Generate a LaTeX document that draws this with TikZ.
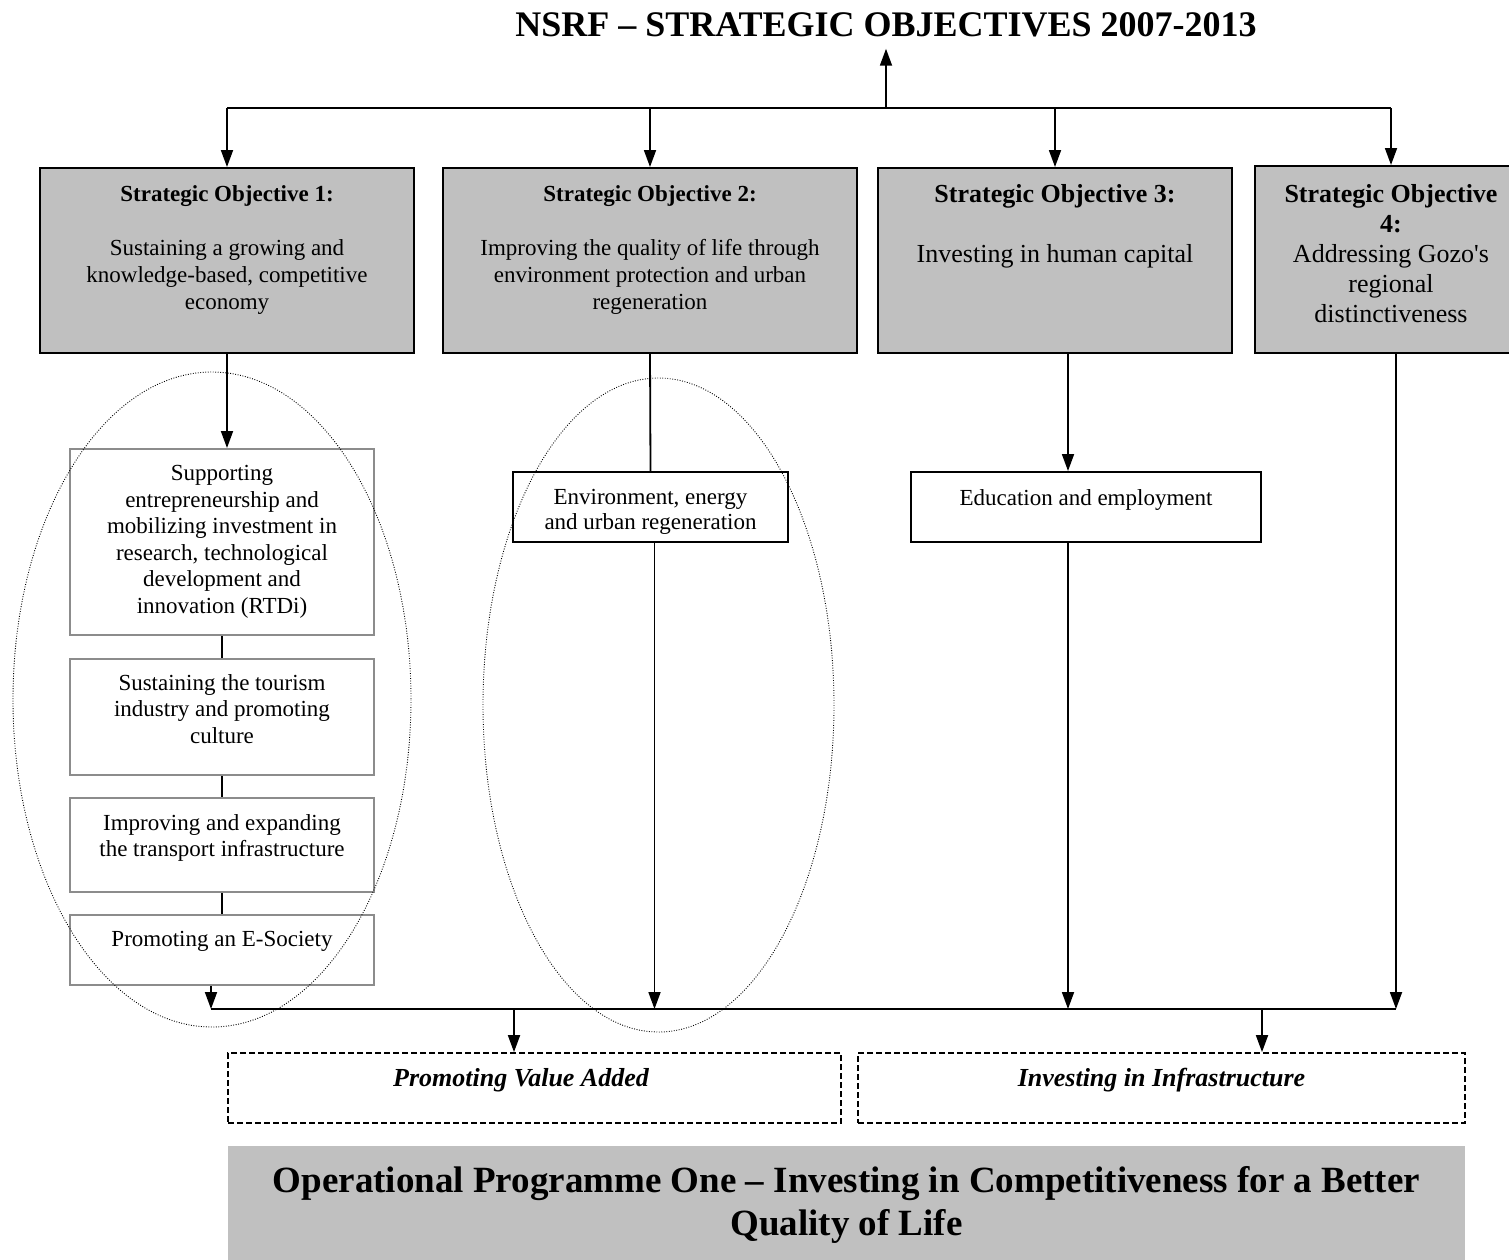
\documentclass[tikz,border=0pt]{standalone}
\usepackage{fontspec}
\setmainfont{Liberation Serif}
\usetikzlibrary{positioning,arrows.meta}
\definecolor{boxgray}{HTML}{C0C0C0}
\definecolor{subgray}{HTML}{8C8C8C}

\tikzset{
  conn/.style={line width=1.8pt},
  arr/.style={conn, -{Triangle[width=12pt,length=17pt]}},
  objbox/.style={draw, line width=2pt, fill=boxgray, minimum height=185, inner sep=0pt},
  subbox/.style={draw=subgray, line width=2pt, fill=white, minimum width=304, inner sep=0pt},
  linkbox/.style={draw, line width=2pt, fill=white, minimum height=70, inner sep=0pt},
  prgbox/.style={draw, line width=1.8pt, dash pattern=on 6pt off 3pt, minimum height=70, inner sep=0pt},
  zone/.style={draw, line width=0.9pt, dash pattern=on 0.9pt off 1.6pt},
  txt/.style={anchor=north, align=center, inner sep=0pt, font=\fontsize{23}{27}\selectfont},
  bigtxt/.style={anchor=north, align=center, inner sep=0pt, font=\fontsize{26}{30}\selectfont},
}

\begin{document}
\begin{tikzpicture}[x=1pt, y=-1pt]
  \useasboundingbox (0,0) rectangle (1509,1259);

  % title and top bar
  \node[anchor=base, inner sep=0pt, font=\fontsize{36}{40}\selectfont\bfseries] (title) at (886,36)
    {NSRF – STRATEGIC OBJECTIVES 2007-2013};
  \coordinate (hub) at (886,108);

  % strategic objectives
  \node[objbox, minimum width=374] (so1) at (227,260.5) {};
  \node[objbox, minimum width=414] (so2) at (650,260.5) {};
  \node[objbox, minimum width=354] (so3) at (1055,260.5) {};
  \node[objbox, minimum width=272, minimum height=187] (so4) at (1391,259.5) {};

  \node[txt] (so1txt) at (227,185) {\textbf{Strategic Objective 1:}\\[27pt]
    Sustaining a growing and\\knowledge-based, competitive\\economy};
  \node[txt] (so2txt) at (650,185) {\textbf{Strategic Objective 2:}\\[27pt]
    Improving the quality of life through\\environment protection and urban\\regeneration};
  \node[bigtxt] (so3txt) at (1055,184) {\textbf{Strategic Objective 3:}\\[30pt]
    Investing in human capital};
  \node[bigtxt] (so4txt) at (1391,184) {\textbf{Strategic Objective}\\\textbf{4:}\\
    Addressing Gozo\textquotesingle s\\regional\\distinctiveness};

  % priority axes under objective 1
  \node[subbox, minimum height=186] (subA) at (222,542) {};
  \node[subbox, minimum height=116] (subB) at (222,717) {};
  \node[subbox, minimum height=94] (subC) at (222,845) {};
  \node[subbox, minimum height=70] (subD) at (222,950) {};

  \node[txt, font=\fontsize{23}{26.6}\selectfont] (subAtxt) at (222,465) {Supporting\\entrepreneurship and\\
    mobilizing investment in\\research, technological\\development and\\innovation (RTDi)};
  \node[txt, font=\fontsize{23}{26.6}\selectfont] (subBtxt) at (222,674)
    {Sustaining the tourism\\industry and promoting\\culture};
  \node[txt, font=\fontsize{23}{26.6}\selectfont] (subCtxt) at (222,814)
    {Improving and expanding\\the transport infrastructure};
  \node[txt] (subDtxt) at (222,931) {Promoting an E-Society};

  % priority axes under objectives 2 and 3
  \node[linkbox, minimum width=275] (env) at (650.5,507) {};
  \node[linkbox, minimum width=350] (edu) at (1086,507) {};
  \node[txt, font=\fontsize{23}{25}\selectfont] (envtxt) at (650.5,489)
    {Environment, energy\\and urban regeneration};
  \node[txt] (edutxt) at (1086,489) {Education and employment};

  % themes and programme
  \node[prgbox, minimum width=613] (pva) at (534.5,1088) {};
  \node[prgbox, minimum width=607] (pii) at (1161.5,1088) {};
  \node[inner sep=0pt, font=\fontsize{26}{30}\selectfont\bfseries\itshape] (pvatxt) at (521,1080)
    {Promoting Value Added};
  \node[inner sep=0pt, font=\fontsize{26}{30}\selectfont\bfseries\itshape] (piitxt) at (1161.5,1080)
    {Investing in Infrastructure};

  \node[fill=boxgray, minimum width=1237, minimum height=129, inner sep=0pt] (opone) at (846.5,1210.5) {};
  \node[anchor=north, align=center, inner sep=0pt, font=\fontsize{37}{43}\selectfont\bfseries] (oponetxt)
    at (846.5,1166) {Operational Programme One – Investing in Competitiveness for a Better\\Quality of Life};

  % connectors
  \coordinate (col3) at (1068,0);
  \coordinate (barL) at (211,1009);
  \coordinate (j1) at (514,1009);
  \coordinate (j2) at (1262,1009);

  \draw[arr, shorten >=12pt] (hub) -- (title.south);
  \draw[conn] (so1.north |- hub) -- (so4.north |- hub);
  \foreach \o in {so1,so2,so3,so4}
    \draw[arr] (\o.north |- hub) -- (\o.north);

  \draw[arr] (so1.south) -- (so1.south |- subA.north);
  \draw[conn] (subA.south) -- (subB.north);
  \draw[conn] (subB.south) -- (subC.north);
  \draw[conn] (subC.south) -- (subD.north);
  \draw[arr] (subD.south -| barL) -- (barL);

  \draw[conn] (so2.south) -- (env.north);
  \draw[arr] ([xshift=4pt]env.south) -- ([xshift=4pt]env.south |- barL);

  \draw[arr] (col3 |- so3.south) -- (col3 |- edu.north);
  \draw[arr] (col3 |- edu.south) -- (col3 |- barL);

  \draw[arr] ([xshift=5pt]so4.south) -- ([xshift=5pt]so4.south |- barL);
  \draw[conn] (barL) -- ([xshift=5pt]so4.south |- barL);

  \draw[arr] (j1) -- (j1 |- pva.north);
  \draw[arr] (j2) -- (j2 |- pii.north);

  % dotted groupings
  \draw[zone] (212,699.5) ellipse [x radius=199, y radius=327.5];
  \draw[zone] (658.5,705) ellipse [x radius=175.5, y radius=327];
\end{tikzpicture}
\end{document}
